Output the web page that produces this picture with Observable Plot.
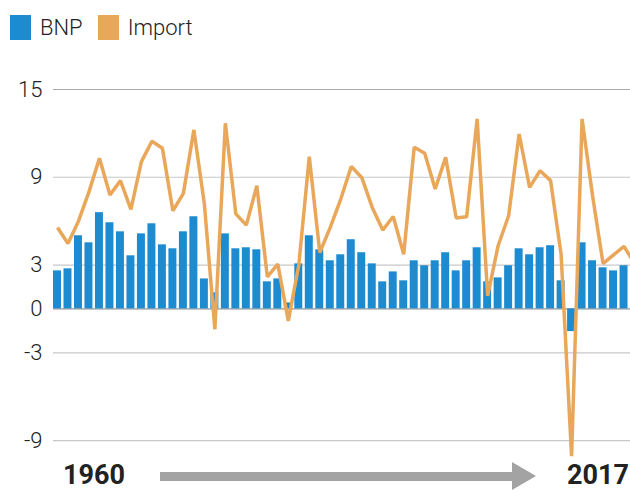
<!DOCTYPE html>
<html>
<head>
<meta charset="utf-8">
<script src="https://cdn.jsdelivr.net/npm/d3@7"></script>
<script src="https://cdn.jsdelivr.net/npm/@observablehq/plot@0.6"></script>
<style>
  html, body { margin: 0; padding: 0; background: #fff; }
  body { width: 630px; height: 490px; position: relative; overflow: hidden; font-family: Roboto, sans-serif; color: #222; }
  #chart { position: absolute; left: 0; top: 0; }
  #chart svg { overflow: hidden; max-width: none; }
  .legend { position: absolute; top: 15px; left: 10px; height: 25px; display: flex; align-items: center; font-size: 22px; font-weight: 300; }
  .legend .sw { width: 21px; height: 25px; display: inline-block; margin-right: 9px; }
  .legend .item { display: flex; align-items: center; margin-right: 15px; }
  .cap { position: absolute; font-weight: 700; font-size: 27px; top: 460px; line-height: 30px; white-space: nowrap; }
  .shaft { position: absolute; left: 160px; top: 472px; width: 353px; height: 9px; background: #a3a3a3; }
  .head { position: absolute; left: 512px; top: 462px; width: 0; height: 0; border-left: 24px solid #a3a3a3; border-top: 14.5px solid transparent; border-bottom: 14.5px solid transparent; }
</style>
</head>
<body>
<div id="chart"></div>
<div class="legend" id="legend"></div>
<div class="cap" id="capL" style="left:63px"></div>
<div class="shaft"></div>
<div class="head"></div>
<div class="cap" id="capR" style="right:1px"></div>
<script>
// Categories: years (the last years are cropped at the right edge of the picture)
const years = [1960,1961,1962,1963,1964,1965,1966,1967,1968,1969,
               1970,1971,1972,1973,1974,1975,1976,1977,1978,1979,
               1980,1981,1982,1983,1984,1985,1986,1987,1988,1989,
               1990,1991,1992,1993,1994,1995,1996,1997,1998,1999,
               2000,2001,2002,2003,2004,2005,2006,2007,2008,2009,
               2010,2011,2012,2013,2014,2015,2016,2017];

// BNP growth (%) — null where cropped out of the picture
const bnp = [2.6, 2.74, 5.0, 4.52, 6.58, 5.89, 5.27, 3.63, 5.13, 5.82,
             4.38, 4.11, 5.27, 6.30, 2.05, 1.10, 5.13, 4.11, 4.18, 4.04,
             1.85, 2.05, 0.41, 3.08, 5.0, 4.04, 3.29, 3.70, 4.73, 3.84,
             3.08, 1.85, 2.53, 1.92, 3.29, 2.95, 3.29, 3.84, 2.60, 3.29,
             4.18, 1.85, 2.12, 2.95, 4.11, 3.70, 4.18, 4.32, 1.92, -1.55,
             4.52, 3.29, 2.81, 2.60, 2.95, null, null, null];

// Import growth (%)
const importVals = [5.57, 4.47, 6.0, 8.0, 10.3, 7.79, 8.77, 6.80, 10.07, 11.46,
                    10.98, 6.71, 7.90, 12.24, 7.17, -1.39, 12.69, 6.50, 5.73, 8.42,
                    2.19, 3.06, -0.82, 3.0, 10.41, 3.86, 5.57, 7.51, 9.73, 8.99,
                    6.94, 5.39, 6.32, 3.74, 11.05, 10.64, 8.2, 10.36, 6.21, 6.30,
                    12.99, 0.89, 4.32, 6.37, 11.96, 8.31, 9.45, 8.77, 3.74, -10.07,
                    12.99, 7.74, 3.10, 3.70, 4.27, 3.1, null, null];

const yTicks = [15, 9, 3, 0, -3, -9];
const seriesNames = ["BNP", "Import"];
const colors = ["#1c8bd0", "#e9a75a"];

const rows = years.map((year, i) => ({year, bnp: bnp[i], imp: importVals[i]}));

const chart = Plot.plot({
  width: 630,
  height: 462,
  marginTop: 89,
  marginBottom: 0,
  marginLeft: 53,
  marginRight: 0,
  style: {fontFamily: "Roboto, sans-serif", fontSize: "22px", fontWeight: 300, color: "#222", background: "transparent", overflow: "hidden"},
  x: {type: "band", domain: years, range: [53, 659], paddingInner: 0.24, paddingOuter: 0, round: false, axis: null},
  y: {domain: [-10.5, 15], ticks: yTicks, tickSize: 0, tickPadding: 11, label: null, tickFormat: d => String(d)},
  marks: [
    Plot.ruleY([15], {stroke: "#a8a8a8", strokeWidth: 1.2}),
    Plot.ruleY(yTicks.filter(t => t !== 15 && t !== 0), {stroke: "#c8c8c8", strokeWidth: 1.2}),
    Plot.ruleY([0], {stroke: "#b3b3b3", strokeWidth: 1.6}),
    Plot.barY(rows.filter(d => d.bnp != null), {x: "year", y: "bnp", fill: colors[0]}),
    Plot.line(rows, {x: "year", y: "imp", stroke: colors[1], strokeWidth: 3.5, strokeLinejoin: "miter", strokeLinecap: "butt"})
  ]
});
document.getElementById("chart").appendChild(chart);

const legend = document.getElementById("legend");
seriesNames.forEach((name, i) => {
  const item = document.createElement("div");
  item.className = "item";
  const sw = document.createElement("span");
  sw.className = "sw";
  sw.style.background = colors[i];
  item.appendChild(sw);
  item.appendChild(document.createTextNode(name));
  legend.appendChild(item);
});
document.getElementById("capL").textContent = years[0];
document.getElementById("capR").textContent = years[years.length - 1];
</script>
</body>
</html>
